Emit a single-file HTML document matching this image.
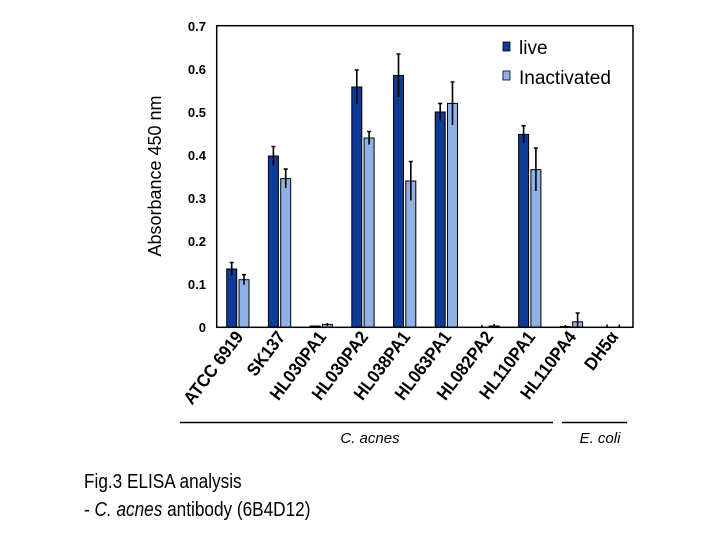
<!DOCTYPE html>
<html><head><meta charset="utf-8"><style>
body{margin:0;background:#fff;width:720px;height:540px;overflow:hidden}
svg{display:block}
.t{font-family:"Liberation Sans",Arial,sans-serif}
</style></head><body>
<svg width="720" height="540" viewBox="0 0 720 540" xmlns="http://www.w3.org/2000/svg">
<g class="t" font-size="13" font-weight="bold" text-anchor="end" fill="#000">
<text x="206" y="31">0.7</text>
<text x="206" y="74">0.6</text>
<text x="206" y="117">0.5</text>
<text x="206" y="160">0.4</text>
<text x="206" y="203">0.3</text>
<text x="206" y="246">0.2</text>
<text x="206" y="289">0.1</text>
<text x="206" y="332">0</text>
</g>
<text class="t" font-size="18" transform="translate(161,176) rotate(-90)" text-anchor="middle">Absorbance 450 nm</text>
<g stroke="#000" stroke-width="1">
<g fill="#0f3a96">
<rect x="226.7" y="269" width="10" height="58"/>
<rect x="268.4" y="156" width="10" height="171"/>
<rect x="310.1" y="326" width="10" height="1"/>
<rect x="351.8" y="87" width="10" height="240"/>
<rect x="393.5" y="75.4" width="10" height="251.6"/>
<rect x="435.2" y="112" width="10" height="215"/>
<rect x="518.6" y="134.4" width="10" height="192.6"/>
<rect x="560.3" y="326.5" width="10" height="0.5"/>
</g>
<g fill="#8fb1e6">
<rect x="239" y="279.7" width="10" height="47.3"/>
<rect x="280.7" y="178.6" width="10" height="148.4"/>
<rect x="322.4" y="324.4" width="10" height="2.6"/>
<rect x="364.1" y="138" width="10" height="189"/>
<rect x="405.8" y="181" width="10" height="146"/>
<rect x="447.5" y="103.4" width="10" height="223.6"/>
<rect x="489.2" y="326" width="10" height="1"/>
<rect x="530.9" y="169.6" width="10" height="157.4"/>
<rect x="572.6" y="321.8" width="10" height="5.2"/>
</g>
</g>
<g stroke="#000" stroke-width="1.6">
<path d="M231.7 262.5V275.5M229.7 262.5H233.7M244 274.7V284.7M242 274.7H246
M273.4 146.5V165.5M271.4 146.5H275.4M285.7 169.1V188.1M283.7 169.1H287.7
M327.4 323V326M356.8 70V104M354.8 70H358.8M369.1 131.5V144.5M367.1 131.5H371.1
M398.5 54V97M396.5 54H400.5M410.8 161.6V200.4M408.8 161.6H412.8
M440.2 103.4V120.6M438.2 103.4H442.2M452.5 82V125M450.5 82H454.5
M494.2 324V327M481.9 325V327
M523.6 125.8V143M521.6 125.8H525.6M535.9 148V191M533.9 148H537.9
M577.6 313V327M575.6 313H579.6M565.3 325V327
M607 324.5V327M619.3 324.5V327"/>
</g>
<rect x="216.7" y="25.7" width="416.3" height="301.6" fill="none" stroke="#000" stroke-width="1.5"/>
<rect x="503" y="42" width="7" height="9" fill="#0f3a96" stroke="#000" stroke-width="0.8"/>
<rect x="503" y="71" width="7" height="9" fill="#8fb1e6" stroke="#000" stroke-width="0.8"/>
<g class="t" font-size="19"><text x="519" y="54">live</text><text x="519" y="84">Inactivated</text></g>
<g class="t" font-size="18" font-weight="bold" text-anchor="end">
<text transform="translate(244,337) rotate(-53) scale(0.92,1)">ATCC 6919</text>
<text transform="translate(286,337) rotate(-53) scale(0.92,1)">SK137</text>
<text transform="translate(327,337) rotate(-53) scale(0.92,1)">HL030PA1</text>
<text transform="translate(369,337) rotate(-53) scale(0.92,1)">HL030PA2</text>
<text transform="translate(411,337) rotate(-53) scale(0.92,1)">HL038PA1</text>
<text transform="translate(452,337) rotate(-53) scale(0.92,1)">HL063PA1</text>
<text transform="translate(494,337) rotate(-53) scale(0.92,1)">HL082PA2</text>
<text transform="translate(536,337) rotate(-53) scale(0.92,1)">HL110PA1</text>
<text transform="translate(577,337) rotate(-53) scale(0.92,1)">HL110PA4</text>
<text transform="translate(619,337) rotate(-53) scale(0.92,1)">DH5α</text>
</g>
<g stroke="#000" stroke-width="1.5"><path d="M180 422.5H553M562 422.5H627"/></g>
<g class="t" font-size="15" font-style="italic" text-anchor="middle">
<text x="370" y="443">C. acnes</text><text x="600" y="443">E. coli</text></g>
<g class="t" font-size="20" transform="translate(84,0) scale(0.86,1)">
<text x="0" y="488">Fig.3 ELISA analysis</text>
<text x="0" y="516">- <tspan font-style="italic">C. acnes</tspan>  antibody (6B4D12)</text>
</g>
</svg>
</body></html>
